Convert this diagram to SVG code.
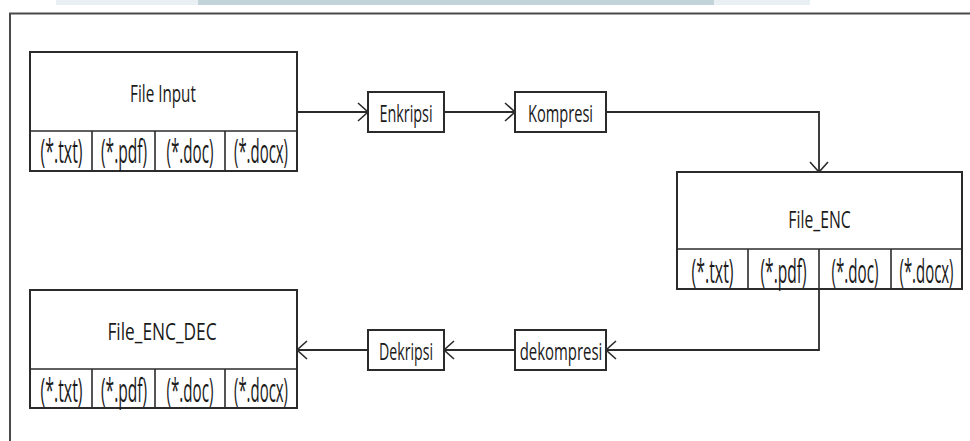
<svg xmlns="http://www.w3.org/2000/svg" width="970" height="441" viewBox="0 0 970 441">
  <defs>
    <!-- open chevron arrowhead -->
    <marker id="arrow" markerUnits="userSpaceOnUse" markerWidth="14" markerHeight="22" refX="11" refY="10" orient="auto">
      <path d="M1,1 L11,10 L1,19" fill="none" stroke="#2b2b2b" stroke-width="1.6"/>
    </marker>
  </defs>
  <style>
    .box { fill: #ffffff; stroke: #2b2b2b; stroke-width: 2; }
    .sep { stroke: #2b2b2b; stroke-width: 1.6; }
    .edge { fill: none; stroke: #2b2b2b; stroke-width: 1.8; }
    text { font-family: "Open Sans", "Liberation Sans", sans-serif; fill: #1a1a1a; text-anchor: middle; }
    .title { font-size: 23px; }
    .cell { font-size: 33px; }
  </style>

  <rect x="0" y="0" width="970" height="441" fill="#ffffff"/>
  <!-- strip along the top edge -->
  <rect x="56" y="0" width="754" height="5" fill="#e8f0f3"/>
  <rect x="198" y="0" width="516" height="5" fill="#c3d3da"/>
  <!-- outer frame -->
  <path d="M10,441 V13.5 H970" fill="none" stroke="#4a4a4a" stroke-width="2"/>

  <g id="connectors">
    <path class="edge" d="M297,112 H368" marker-end="url(#arrow)"/>
    <path class="edge" d="M444,112 H515" marker-end="url(#arrow)"/>
    <path class="edge" d="M606,112 H819 V172" marker-end="url(#arrow)"/>
    <path class="edge" d="M819,289 V350 H606" marker-end="url(#arrow)"/>
    <path class="edge" d="M515,350 H444" marker-end="url(#arrow)"/>
    <path class="edge" d="M368,350 H297" marker-end="url(#arrow)"/>
  </g>

  <!-- narrow lettering: titles squeezed to 70 %, cell labels to 50 % -->
  <g id="file-input">
    <rect class="box" x="30" y="52" width="267" height="119"/>
    <line class="sep" x1="30" y1="131" x2="297" y2="131"/>
    <line class="sep" x1="92" y1="131" x2="92" y2="171"/>
    <line class="sep" x1="155" y1="131" x2="155" y2="171"/>
    <line class="sep" x1="225" y1="131" x2="225" y2="171"/>
    <text class="title" transform="translate(163,101.5) scale(0.7,1)" textLength="94" lengthAdjust="spacingAndGlyphs">File Input</text>
    <text class="cell" transform="translate(61.5,163) scale(0.5,1)" textLength="84" lengthAdjust="spacingAndGlyphs">(*.txt)</text>
    <text class="cell" transform="translate(124,163) scale(0.5,1)" textLength="92" lengthAdjust="spacingAndGlyphs">(*.pdf)</text>
    <text class="cell" transform="translate(190,163) scale(0.5,1)" textLength="94" lengthAdjust="spacingAndGlyphs">(*.doc)</text>
    <text class="cell" transform="translate(261,163) scale(0.5,1)" textLength="108" lengthAdjust="spacingAndGlyphs">(*.docx)</text>
  </g>

  <g id="enkripsi">
    <rect class="box" x="368" y="92" width="76" height="40"/>
    <text class="title" transform="translate(406,121.5) scale(0.7,1)" textLength="76" lengthAdjust="spacingAndGlyphs">Enkripsi</text>
  </g>

  <g id="kompresi">
    <rect class="box" x="515" y="92" width="91" height="40"/>
    <text class="title" transform="translate(560.5,121.5) scale(0.7,1)" textLength="93" lengthAdjust="spacingAndGlyphs">Kompresi</text>
  </g>

  <g id="file-enc">
    <rect class="box" x="677" y="172" width="285" height="117"/>
    <line class="sep" x1="677" y1="249" x2="962" y2="249"/>
    <line class="sep" x1="748" y1="249" x2="748" y2="289"/>
    <line class="sep" x1="819" y1="249" x2="819" y2="289"/>
    <line class="sep" x1="891" y1="249" x2="891" y2="289"/>
    <text class="title" transform="translate(819.5,228) scale(0.7,1)" textLength="89" lengthAdjust="spacingAndGlyphs">File_ENC</text>
    <text class="cell" transform="translate(712.5,283) scale(0.5,1)" textLength="84" lengthAdjust="spacingAndGlyphs">(*.txt)</text>
    <text class="cell" transform="translate(783.5,283) scale(0.5,1)" textLength="92" lengthAdjust="spacingAndGlyphs">(*.pdf)</text>
    <text class="cell" transform="translate(855,283) scale(0.5,1)" textLength="94" lengthAdjust="spacingAndGlyphs">(*.doc)</text>
    <text class="cell" transform="translate(926.5,283) scale(0.5,1)" textLength="108" lengthAdjust="spacingAndGlyphs">(*.docx)</text>
  </g>

  <g id="dekompresi">
    <rect class="box" x="515" y="330" width="91" height="40"/>
    <text class="title" transform="translate(561,360) scale(0.7,1)" textLength="118" lengthAdjust="spacingAndGlyphs">dekompresi</text>
  </g>

  <g id="dekripsi">
    <rect class="box" x="368" y="330" width="76" height="40"/>
    <text class="title" transform="translate(406,360) scale(0.7,1)" textLength="77" lengthAdjust="spacingAndGlyphs">Dekripsi</text>
  </g>

  <g id="file-enc-dec">
    <rect class="box" x="30" y="290" width="267" height="118"/>
    <line class="sep" x1="30" y1="369" x2="297" y2="369"/>
    <line class="sep" x1="92" y1="369" x2="92" y2="408"/>
    <line class="sep" x1="155" y1="369" x2="155" y2="408"/>
    <line class="sep" x1="225" y1="369" x2="225" y2="408"/>
    <text class="title" transform="translate(162,340) scale(0.7,1)" textLength="156" lengthAdjust="spacingAndGlyphs">File_ENC_DEC</text>
    <text class="cell" transform="translate(61.5,402) scale(0.5,1)" textLength="84" lengthAdjust="spacingAndGlyphs">(*.txt)</text>
    <text class="cell" transform="translate(124,402) scale(0.5,1)" textLength="92" lengthAdjust="spacingAndGlyphs">(*.pdf)</text>
    <text class="cell" transform="translate(190,402) scale(0.5,1)" textLength="94" lengthAdjust="spacingAndGlyphs">(*.doc)</text>
    <text class="cell" transform="translate(261,402) scale(0.5,1)" textLength="108" lengthAdjust="spacingAndGlyphs">(*.docx)</text>
  </g>
</svg>
